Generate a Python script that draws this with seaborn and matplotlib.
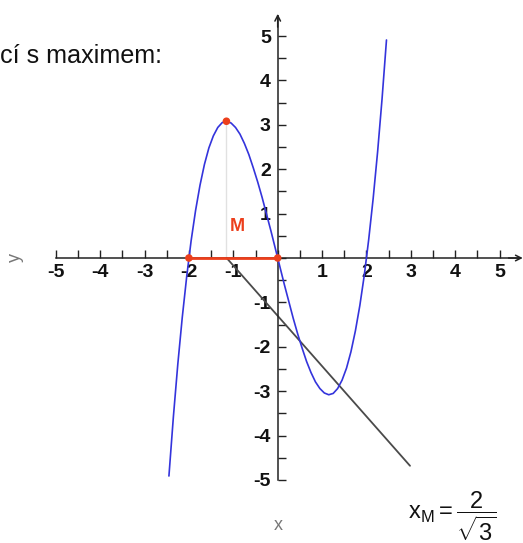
import matplotlib
matplotlib.use("Agg")
import matplotlib.pyplot as plt
import seaborn as sns
import pandas as pd
from matplotlib.ticker import FixedLocator

sns.set_style("white")
plt.rcParams["font.family"] = ["Liberation Sans", "DejaVu Sans"]
plt.rcParams["mathtext.fontset"] = "custom"
plt.rcParams["mathtext.rm"] = "Liberation Sans"
plt.rcParams["mathtext.it"] = "Liberation Sans"
plt.rcParams["mathtext.sf"] = "Liberation Sans"

# Cubic curve samples
curve_x = [-2.45, -2.35, -2.25, -2.15, -2.05, -1.95, -1.85, -1.75, -1.65, -1.55,
           -1.45, -1.35, -1.25, -1.15, -1.05, -0.95, -0.85, -0.75, -0.65, -0.55,
           -0.45, -0.35, -0.25, -0.15, -0.05, 0.05, 0.15, 0.25, 0.35, 0.45,
           0.55, 0.65, 0.75, 0.85, 0.95, 1.05, 1.15, 1.25, 1.35, 1.45,
           1.55, 1.65, 1.75, 1.85, 1.95, 2.05, 2.15, 2.25, 2.35, 2.45]
curve_y = [-4.91, -3.58, -2.39, -1.34, -0.42, 0.39, 1.07, 1.64, 2.11, 2.48,
           2.75, 2.94, 3.05, 3.08, 3.04, 2.94, 2.79, 2.58, 2.33, 2.03,
           1.71, 1.36, 0.98, 0.60, 0.20, -0.20, -0.60, -0.98, -1.36, -1.71,
           -2.03, -2.33, -2.58, -2.79, -2.94, -3.04, -3.08, -3.05, -2.94, -2.75,
           -2.48, -2.11, -1.64, -1.07, -0.39, 0.42, 1.34, 2.39, 3.58, 4.91]

# Marked points: left root, maximum, origin
point_x = [-2.0, -1.155, 0.0]
point_y = [0.0, 3.08, 0.0]

# Interval on the x axis between the roots
segment_x = [-2.0, 0.0]
segment_y = [0.0, 0.0]

# Straight gray line
line_x = [-1.15, 2.98]
line_y = [0.0, -4.68]

tick_major = [-5, -4, -3, -2, -1, 1, 2, 3, 4, 5]
tick_minor = [v / 2 for v in range(-10, 11)]

BLUE = "#3434dc"
RED = "#ec3f1c"
AXIS = "#222222"

fig = plt.figure(figsize=(5.23, 5.43), dpi=100)
ax = fig.add_axes([0, 0, 1, 1])
ax.set_xlim(-6.255, 5.525)
ax.set_ylim(-6.419, 5.811)

curve = pd.DataFrame({"x": curve_x, "y": curve_y})
sns.lineplot(data=curve, x="x", y="y", sort=False, estimator=None,
             color=BLUE, linewidth=1.2, ax=ax, zorder=3)

# Dotted drop from the maximum to the x axis
sns.lineplot(x=[point_x[1], point_x[1]], y=[point_y[1], 0.0], color="#6a6a6a",
             linewidth=0.9, linestyle=(0, (1, 1.2)), ax=ax, zorder=2)

sns.lineplot(x=line_x, y=line_y, color="#4a4a4a", linewidth=1.3, ax=ax, zorder=2)

sns.lineplot(x=segment_x, y=segment_y, color=RED, linewidth=2.0, ax=ax, zorder=4)

sns.scatterplot(x=point_x, y=point_y, color=RED, s=30, edgecolor="none", ax=ax, zorder=5)

ax.text(-0.92, 0.70, "M", color=RED, fontsize=13, fontweight="bold",
        ha="center", va="center")

# Axes through the origin
for side in ("top", "right"):
    ax.spines[side].set_visible(False)
ax.spines["left"].set_position(("data", 0))
ax.spines["bottom"].set_position(("data", 0))
ax.spines["bottom"].set_bounds(-5, 5.45)
ax.spines["left"].set_bounds(-5, 5.45)
for side in ("left", "bottom"):
    ax.spines[side].set_color(AXIS)
    ax.spines[side].set_linewidth(1.1)

ax.annotate("", xy=(5.52, 0), xytext=(5.2, 0),
            arrowprops=dict(arrowstyle="->", color=AXIS, lw=1.1,
                            shrinkA=0, shrinkB=0, mutation_scale=10))
ax.annotate("", xy=(0, 5.5), xytext=(0, 5.2),
            arrowprops=dict(arrowstyle="->", color=AXIS, lw=1.1,
                            shrinkA=0, shrinkB=0, mutation_scale=10))

ax.xaxis.set_major_locator(FixedLocator(tick_major))
ax.yaxis.set_major_locator(FixedLocator(tick_major))
ax.xaxis.set_minor_locator(FixedLocator(tick_minor))
ax.yaxis.set_minor_locator(FixedLocator(tick_minor))
ax.set_xticklabels([str(v) for v in tick_major])
ax.set_yticklabels([str(v) for v in tick_major])
ax.tick_params(which="both", direction="in", length=6, width=1.0, color=AXIS,
               bottom=True, left=True)
ax.tick_params(axis="x", which="major", pad=4, labelsize=14, labelcolor="#111111")
ax.tick_params(axis="y", which="major", pad=5, labelsize=14, labelcolor="#111111")
for lab in ax.get_xticklabels() + ax.get_yticklabels():
    lab.set_fontweight("bold")

ax.set_xlabel("x", fontsize=13, color="#777777")
ax.set_ylabel("y", fontsize=13, color="#777777")
ax.xaxis.set_label_coords(278 / 523, 1 - 517 / 543)
ax.yaxis.set_label_coords(24 / 523, 1 - 258 / 543)

fig.text(0.0, 1 - 63 / 543, "cí s maximem:", fontsize=18.1, ha="left",
         va="baseline", color="#111111")
fig.text(452 / 523, 1 - 516 / 543,
         r"$\mathrm{x}_{\mathrm{M}} = \dfrac{2}{\sqrt{3}}$",
         fontsize=17, ha="center", va="center", color="#111111")

fig.savefig("out.png", dpi=100)
